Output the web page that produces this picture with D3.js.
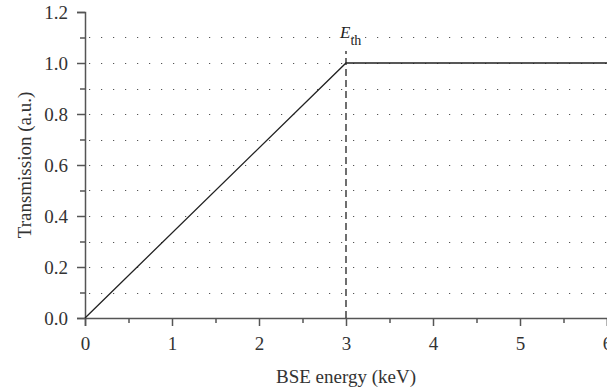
<!DOCTYPE html>
<html><head><meta charset="utf-8">
<script src="https://cdn.jsdelivr.net/npm/d3@7"></script>
<style>body{margin:0;background:#fff}svg{display:block}text{font-family:"Liberation Serif","DejaVu Serif",serif}</style>
</head><body><svg id="c" width="607" height="392"></svg>
<script>
const energy = [0, 3, 6];
const transmission = [0, 1, 1];
const xTicks = [0, 1, 2, 3, 4, 5, 6];
const yTicks = [0, 0.2, 0.4, 0.6, 0.8, 1.0, 1.2];
const gridValues = [0.1, 0.2, 0.3, 0.4, 0.5, 0.6, 0.7, 0.8, 0.9, 1.0, 1.1];
const threshold = 3;

const svg = d3.select("#c");
const x = d3.scaleLinear().domain([0, 6]).range([85, 607]);
const y = d3.scaleLinear().domain([0, 1.2]).range([318, 12]);
const axisCol = "#555";
const textCol = "#333";

// grid
svg.append("g").selectAll("line").data(gridValues).join("line")
  .attr("x1", x(0) + 4).attr("x2", x(6)).attr("y1", d => Math.round(y(d)) + 0.5).attr("y2", d => Math.round(y(d)) + 0.5)
  .attr("stroke", "#555").attr("stroke-width", 1.2).attr("stroke-dasharray", "1.2,10.8");

// x axis
svg.append("g").attr("transform", `translate(0,${y(0)})`)
  .call(d3.axisBottom(x).tickValues(xTicks).tickFormat(d3.format("d")).tickSizeOuter(0).tickSize(8).tickPadding(11));
svg.append("g").attr("transform", `translate(0,${y(0)})`)
  .call(d3.axisBottom(x).tickValues([0.5,1.5,2.5,3.5,4.5,5.5]).tickFormat("").tickSizeOuter(0).tickSize(5))
  .select(".domain").remove();
// y axis
svg.append("g").attr("transform", `translate(${x(0)},0)`)
  .call(d3.axisLeft(y).tickValues(yTicks).tickFormat(d3.format(".1f")).tickSizeOuter(0).tickSize(8).tickPadding(9));
svg.append("g").attr("transform", `translate(${x(0)},0)`)
  .call(d3.axisLeft(y).tickValues([0.1,0.3,0.5,0.7,0.9,1.1]).tickFormat("").tickSizeOuter(0).tickSize(5))
  .select(".domain").remove();
svg.selectAll(".domain, .tick line").attr("stroke", axisCol).attr("stroke-width", 1.5);
svg.selectAll(".tick text").attr("fill", textCol).attr("font-size", 19).attr("font-family", "Liberation Serif, serif");

// threshold dashed line
svg.append("line").attr("x1", x(threshold)).attr("x2", x(threshold))
  .attr("y1", y(0)).attr("y2", 51)
  .attr("stroke", "#222").attr("stroke-width", 1.3).attr("stroke-dasharray", "7,4");

// curve
const line = d3.line().x((d, i) => x(energy[i])).y(d => y(d));
svg.append("path").attr("d", line(transmission)).attr("fill", "none")
  .attr("stroke", "#222").attr("stroke-width", 1.3);

// E_th label
const lab = svg.append("text").attr("x", x(threshold) - 6).attr("y", 38).attr("fill", "#222").attr("font-size", 17);
lab.append("tspan").attr("font-style", "italic").text("E");
lab.append("tspan").attr("dy", 7).attr("font-size", 14).text("th");

// axis titles
svg.append("text").attr("x", x(3)).attr("y", 383).attr("text-anchor", "middle")
  .attr("fill", textCol).attr("font-size", 19).text("BSE energy (keV)");
svg.append("text").attr("transform", `translate(31,${y(0.6)}) rotate(-90)`).attr("text-anchor", "middle")
  .attr("fill", textCol).attr("font-size", 19).text("Transmission (a.u.)");
</script></body></html>
